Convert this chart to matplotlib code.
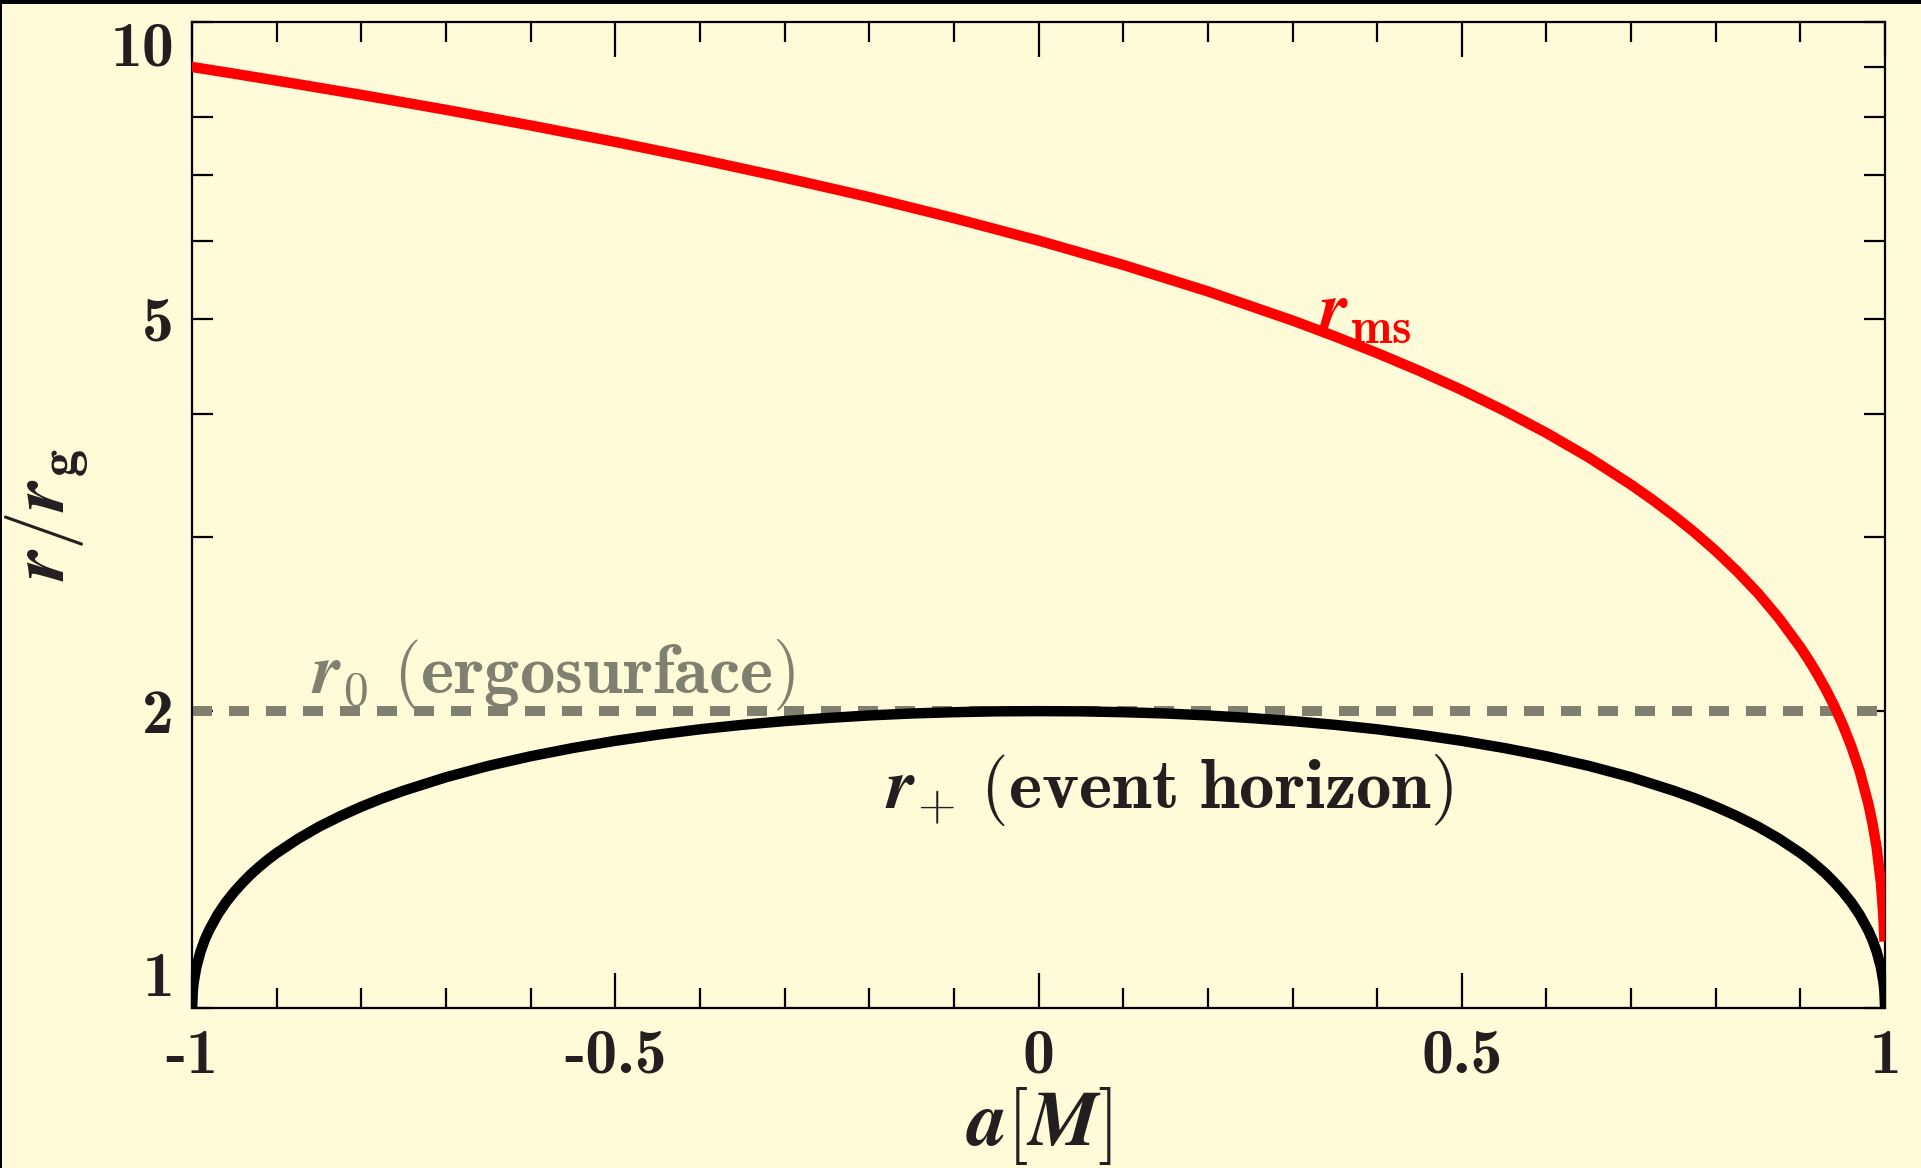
import matplotlib
matplotlib.use("Agg")
import matplotlib.pyplot as plt
from matplotlib.patches import Rectangle
from matplotlib.ticker import FixedLocator, MultipleLocator, NullFormatter

# spin parameter a/M and the radii (in units of r_g)
a_plus = [-1.0, -0.999, -0.998, -0.995, -0.99, -0.985, -0.98, -0.97, -0.96, -0.95,
          -0.94, -0.93, -0.92, -0.91, -0.9, -0.875, -0.85, -0.825, -0.8, -0.775,
          -0.75, -0.7, -0.65, -0.6, -0.55, -0.5, -0.45, -0.4, -0.35, -0.3,
          -0.25, -0.2, -0.15, -0.1, -0.05, 0.0,
          0.05, 0.1, 0.15, 0.2, 0.25, 0.3, 0.35, 0.4, 0.45, 0.5,
          0.55, 0.6, 0.65, 0.7, 0.75, 0.775, 0.8, 0.825, 0.85, 0.875,
          0.9, 0.91, 0.92, 0.93, 0.94, 0.95, 0.96, 0.97, 0.98, 0.985,
          0.99, 0.995, 0.998, 0.999, 1.0]
r_plus = [1.0, 1.045, 1.063, 1.100, 1.141, 1.173, 1.199, 1.243, 1.280, 1.312,
          1.341, 1.368, 1.392, 1.415, 1.436, 1.484, 1.527, 1.565, 1.600, 1.632,
          1.661, 1.714, 1.760, 1.800, 1.835, 1.866, 1.893, 1.917, 1.937, 1.954,
          1.968, 1.980, 1.989, 1.995, 1.999, 2.0,
          1.999, 1.995, 1.989, 1.980, 1.968, 1.954, 1.937, 1.917, 1.893, 1.866,
          1.835, 1.800, 1.760, 1.714, 1.661, 1.632, 1.600, 1.565, 1.527, 1.484,
          1.436, 1.415, 1.392, 1.368, 1.341, 1.312, 1.280, 1.243, 1.199, 1.173,
          1.141, 1.100, 1.063, 1.045, 1.0]

a_ms = [-1.0, -0.95, -0.9, -0.8, -0.7, -0.6, -0.5, -0.4, -0.3, -0.2, -0.1, 0.0,
        0.1, 0.2, 0.3, 0.35, 0.4, 0.45, 0.5, 0.55, 0.6, 0.65, 0.7, 0.725,
        0.75, 0.775, 0.8, 0.825, 0.85, 0.875, 0.9, 0.91, 0.92, 0.93, 0.94,
        0.95, 0.96, 0.97, 0.98, 0.985, 0.99, 0.995, 0.998, 0.999]
r_ms = [9.0, 8.859, 8.717, 8.432, 8.143, 7.851, 7.555, 7.254, 6.949, 6.641, 6.323, 6.0,
        5.669, 5.329, 4.979, 4.798, 4.614, 4.426, 4.233, 4.034, 3.829, 3.616, 3.393, 3.277,
        3.158, 3.035, 2.907, 2.773, 2.633, 2.482, 2.321, 2.252, 2.180, 2.104, 2.024,
        1.937, 1.843, 1.738, 1.614, 1.541, 1.455, 1.341, 1.237, 1.182]

a_0 = [-1.0, 1.0]
r_0 = [2.0, 2.0]

x_major = [-1, -0.5, 0, 0.5, 1]
x_labels = ['-1', '-0.5', '0', '0.5', '1']
y_major = [1, 2, 5, 10]
y_labels = ['1', '2', '5', '10']
y_minor = [3, 4, 6, 7, 8, 9]

bg = '#FFFAD7'
ink = '#231F20'
gray = '#808070'

fig = plt.figure(figsize=(19.21, 11.68), dpi=100, facecolor=bg)
ax = fig.add_axes([0.1, 0.137, 0.8813, 0.8443])
ax.set_facecolor(bg)

ax.plot(a_0, r_0, color=gray, lw=7.2, ls=(0, (2.0, 1.7)), dash_capstyle='butt', zorder=2)
ax.plot(a_plus, r_plus, color='black', lw=7.5, zorder=3)
ax.plot(a_ms, r_ms, color='red', lw=7.5, zorder=4)

ax.set_yscale('log')
ax.set_xlim(-1, 1)
ax.set_ylim(1, 10)

ax.set_xticks(x_major, x_labels)
ax.xaxis.set_minor_locator(MultipleLocator(0.1))
ax.set_yticks(y_major, y_labels)
ax.yaxis.set_minor_locator(FixedLocator(y_minor))
ax.yaxis.set_minor_formatter(NullFormatter())

ax.tick_params(which='both', direction='in', top=True, right=True, width=1.6, color='black')
ax.tick_params(axis='x', which='major', length=25, pad=15)
ax.tick_params(axis='x', which='minor', length=14.5)
ax.tick_params(axis='y', which='both', length=15, pad=13)

for lab in ax.get_xticklabels() + ax.get_yticklabels():
    lab.set_fontfamily('cmb10')
    lab.set_fontsize(46)
    lab.set_color(ink)
ylabs = ax.get_yticklabels()
ylabs[0].set_va('bottom')
ylabs[-1].set_va('top')

for sp in ax.spines.values():
    sp.set_linewidth(1.6)
    sp.set_color('black')

ax.set_xlabel(r'$\mathbfit{a}[\mathbfit{M}]$', fontsize=56, color=ink, labelpad=0,
              math_fontfamily='cm')
ax.set_ylabel(r'$\mathbfit{r}/\mathbfit{r}_{\mathbf{g}}$', fontsize=56, color=ink, labelpad=14,
              math_fontfamily='cm')

ax.text(0.33, 4.85, r'$\mathbfit{r}_{\mathbf{ms}}$', color='red', fontsize=51,
        ha='left', va='baseline', math_fontfamily='cm', zorder=5)
ax.text(-0.859, 2.087, r'$\mathbfit{r}_{\mathbf{0}}\ \mathbf{(ergosurface)}$', color=gray,
        fontsize=51, ha='left', va='baseline', math_fontfamily='cm', zorder=1)
ax.text(-0.181, 1.595, r'$\mathbfit{r}_{+}\ \mathbf{(event\ horizon)}$', color=ink,
        fontsize=51, ha='left', va='baseline', math_fontfamily='cm', zorder=5)

# black frame strips on the top and left edge of the image
fig.patches.append(Rectangle((0, 1 - 4 / 1168), 1, 4 / 1168, transform=fig.transFigure,
                             facecolor='black', edgecolor='none'))
fig.patches.append(Rectangle((0, 0), 2 / 1921, 1, transform=fig.transFigure,
                             facecolor='black', edgecolor='none'))

fig.savefig('out.png', dpi=100, facecolor=bg)
